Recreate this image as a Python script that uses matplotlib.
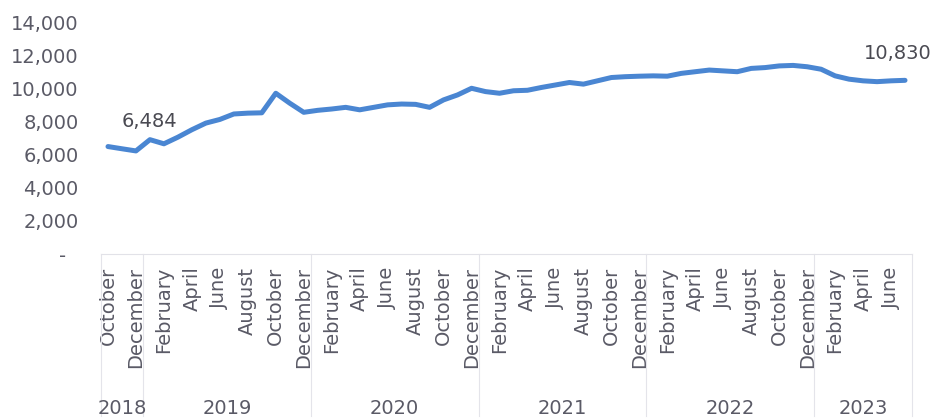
import matplotlib
matplotlib.use("Agg")
import matplotlib.pyplot as plt
from matplotlib.lines import Line2D
import matplotlib.transforms as mtransforms

# ---- data ----
month_names = ["January", "February", "March", "April", "May", "June", "July",
               "August", "September", "October", "November", "December"]
years = [2018, 2019, 2020, 2021, 2022, 2023]
start_month = 10   # October 2018
values = [
    6484, 6350, 6220,                                                     # 2018 Oct-Dec
    6900, 6650, 7050, 7500, 7900, 8120, 8450, 8500, 8520, 9700, 9100, 8550,  # 2019
    8670, 8750, 8850, 8700, 8850, 9000, 9050, 9030, 8850, 9300, 9600, 10000,  # 2020
    9800, 9700, 9850, 9880, 10050, 10200, 10350, 10250, 10450, 10650, 10700, 10730,  # 2021
    10750, 10730, 10900, 11000, 11100, 11050, 11000, 11200, 11250, 11350, 11380, 11300,  # 2022
    11150, 10750, 10550, 10450, 10400, 10450, 10480,                      # 2023 Jan-Jul
]
first_label = "6,484"
last_label = "10,830"
y_ticks = [0, 2000, 4000, 6000, 8000, 10000, 12000, 14000]

# derived month / year per point
labels, point_years = [], []
m, y = start_month, years[0]
for _ in values:
    labels.append(month_names[m - 1])
    point_years.append(y)
    m += 1
    if m > 12:
        m, y = 1, y + 1

n = len(values)
x = list(range(n))

plt.rcParams['font.family'] = ['DejaVu Sans']
text_col = "#5a5a66"
line_col = "#4a86d2"

fig = plt.figure(figsize=(9.31, 4.19), dpi=100)
ax = fig.add_axes([101 / 931, 1 - 254 / 419, (912 - 101) / 931, (254 - 22) / 419])

ax.plot(x, values, color=line_col, lw=3.6, solid_capstyle='round', solid_joinstyle='round')

ax.set_xlim(-0.5, n - 0.5)
ax.set_ylim(0, 14000)
ax.set_yticks(y_ticks)
ax.set_yticklabels(["-  " if v == 0 else f"{v:,}" for v in y_ticks])
ax.set_xticks(x[::2])
ax.set_xticklabels(labels[::2], rotation=90)
ax.tick_params(axis='both', length=0, labelsize=14, colors=text_col)
ax.tick_params(axis='y', pad=16)
ax.tick_params(axis='x', pad=9)
for s in ["top", "right", "left"]:
    ax.spines[s].set_visible(False)
ax.spines["bottom"].set_color("#e2e2e8")
ax.spines["bottom"].set_linewidth(0.8)

# year groups
trans = mtransforms.blended_transform_factory(ax.transData, ax.transAxes)
bounds = [-0.5]
for i in range(1, n):
    if point_years[i] != point_years[i - 1]:
        bounds.append(i - 0.5)
bounds.append(n - 0.5)
for b in bounds:
    ax.add_line(Line2D([b, b], [0, -0.70], transform=trans, color="#e4e4ea",
                       lw=0.8, clip_on=False))
for k, yr in enumerate(years):
    c = (bounds[k] + bounds[k + 1]) / 2
    ax.text(c, -0.665, str(yr), transform=trans, ha='center', va='center',
            fontsize=14, color=text_col)

# data labels
ax.annotate(first_label, (x[0], values[0]), xytext=(30, 18), textcoords='offset points',
            ha='center', va='center', fontsize=14, color="#4a4a52")
ax.annotate(last_label, (x[-1], values[-1]), xytext=(-5, 19), textcoords='offset points',
            ha='center', va='center', fontsize=14, color="#4a4a52", annotation_clip=False)

fig.savefig("out.png", dpi=100, facecolor="white")
